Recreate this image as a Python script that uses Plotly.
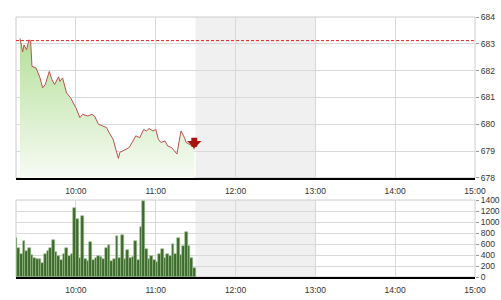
import plotly.graph_objects as go
from plotly.subplots import make_subplots

DAY = "2024-01-02 "

price_times = ["09:18","09:20","09:21","09:23","09:24","09:25","09:26","09:27","09:30","09:33",
               "09:35","09:37","09:40","09:42","09:44","09:47","09:48","09:50","09:53","09:56",
               "09:58","10:00","10:03","10:05","10:09","10:12","10:14","10:17","10:20","10:23",
               "10:25","10:28","10:30","10:32","10:33","10:35","10:38","10:40","10:43","10:45",
               "10:48","10:51","10:53","10:55","10:58","11:00","11:02","11:04","11:07","11:09",
               "11:12","11:14","11:16","11:17","11:19","11:21","11:23","11:25","11:28","11:29"]
price_values = [683.20,682.70,682.96,682.78,683.00,683.15,683.10,682.16,682.10,681.74,
                681.36,681.48,681.97,681.67,681.48,681.77,681.60,681.73,681.17,680.99,
                680.80,680.62,680.25,680.37,680.31,680.37,680.31,680.00,679.94,679.88,
                679.69,679.44,679.07,678.73,678.95,679.01,679.07,679.13,679.38,679.57,
                679.50,679.81,679.75,679.84,679.75,679.81,679.44,679.32,679.38,679.19,
                679.13,679.01,678.89,679.19,679.75,679.57,679.32,679.26,679.19,679.07]

ref_price = 683.12

vol_times = ["09:15","09:17","09:19","09:21","09:23","09:25","09:27","09:29","09:31","09:33",
             "09:35","09:37","09:39","09:41","09:43","09:45","09:47","09:49","09:51","09:53",
             "09:55","09:57","09:59","10:01","10:03","10:05","10:07","10:09","10:11","10:13",
             "10:15","10:17","10:19","10:21","10:23","10:25","10:27","10:29","10:31","10:33",
             "10:35","10:37","10:39","10:41","10:43","10:45","10:47","10:49","10:51","10:53",
             "10:55","10:57","10:59","11:01","11:03","11:05","11:07","11:09","11:11","11:13",
             "11:15","11:17","11:19","11:21","11:23","11:25","11:27","11:29"]
vol_values = [700,520,420,650,470,520,400,350,330,330,
              260,420,480,530,680,450,380,300,410,530,
              380,420,1250,1050,340,1100,320,290,640,300,
              350,380,370,330,530,580,290,330,740,340,
              770,330,490,350,360,660,300,900,1390,500,
              320,380,300,280,420,500,350,420,380,600,
              420,700,400,560,820,560,350,160]

x_start, x_end = "09:15", "15:00"
lunch_start, lunch_end = "11:30", "13:00"
hour_ticks = ["10:00","11:00","12:00","13:00","14:00","15:00"]
price_ticks = [678,679,680,681,682,683,684]
vol_ticks = [0,200,400,600,800,1000,1200,1400]

def T(s):
    return DAY + s

fig = make_subplots(rows=2, cols=1, shared_xaxes=False, vertical_spacing=0.08,
                    row_heights=[0.62, 0.38])

fig.add_trace(go.Scatter(
    x=[T(t) for t in price_times], y=price_values, mode="lines",
    line=dict(color="#c0504d", width=1),
    fill="tozeroy",
    fillgradient=dict(type="vertical", start=678, stop=683.3,
                      colorscale=[[0, "#f7fbf4"], [1, "#b3df97"]]),
    hoverinfo="skip", showlegend=False), row=1, col=1)

fig.add_trace(go.Scatter(
    x=[T(x_start), T(x_end)], y=[ref_price, ref_price], mode="lines",
    line=dict(color="#e8201c", width=1, dash="3px,2px"),
    hoverinfo="skip", showlegend=False), row=1, col=1)

fig.add_trace(go.Bar(
    x=[T(t) for t in vol_times], y=vol_values,
    marker=dict(color="#3b6a2b", line=dict(color="#9dbf8d", width=0.6)),
    hoverinfo="skip", showlegend=False), row=2, col=1)

font = dict(family="Liberation Sans, Arial, sans-serif", size=8.5, color="#333333")
grid = "#d9d9d9"

fig.update_layout(
    width=501, height=300, margin=dict(l=16, r=26, t=17, b=23, autoexpand=False),
    paper_bgcolor="white", plot_bgcolor="white", bargap=0,
    font=font,
)

for ax in ["xaxis", "xaxis2"]:
    fig.layout[ax].update(
        type="date", range=[T(x_start), T(x_end)],
        tickvals=[T(h) for h in hour_ticks], ticktext=hour_ticks,
        showgrid=True, gridcolor=grid, gridwidth=1,
        showline=True, linecolor="#000000", linewidth=2,
        ticks="outside", ticklen=4, tickcolor="rgba(0,0,0,0)",
        zeroline=False, tickfont=font, automargin=False,
    )

fig.layout.yaxis.update(domain=[0.381, 1.0], range=[678, 684], side="right",
                        tickvals=price_ticks, showgrid=True, gridcolor=grid,
                        ticks="outside", ticklen=3, tickcolor="#999999",
                        showline=False, zeroline=False, tickfont=font, automargin=False)
fig.layout.yaxis2.update(domain=[0.0, 0.296], range=[0, 1400], side="right",
                         tickvals=vol_ticks, showgrid=True, gridcolor=grid,
                         ticks="outside", ticklen=3, tickcolor="#999999",
                         showline=False, zeroline=False, tickfont=font, automargin=False)

shapes = []
for xr, yr in [("x", "y"), ("x2", "y2")]:
    shapes.append(dict(type="rect", xref=xr, yref=yr + " domain",
                       x0=T(lunch_start), x1=T(lunch_end), y0=0, y1=1,
                       fillcolor="#f0f0f0", line=dict(width=0), layer="below"))
    shapes.append(dict(type="rect", xref=xr + " domain", yref=yr + " domain",
                       x0=0, x1=1, y0=0, y1=1,
                       fillcolor="rgba(0,0,0,0)", line=dict(color="#cccccc", width=1),
                       layer="below"))
fig.update_layout(shapes=shapes)

fig.add_annotation(x=T(price_times[-1]), y=price_values[-1], xref="x", yref="y",
                   text="", showarrow=True, ax=0, ay=-13, arrowhead=1,
                   arrowsize=0.4, arrowwidth=6, arrowcolor="#a3150f", standoff=1)

fig.write_html("out.html")
